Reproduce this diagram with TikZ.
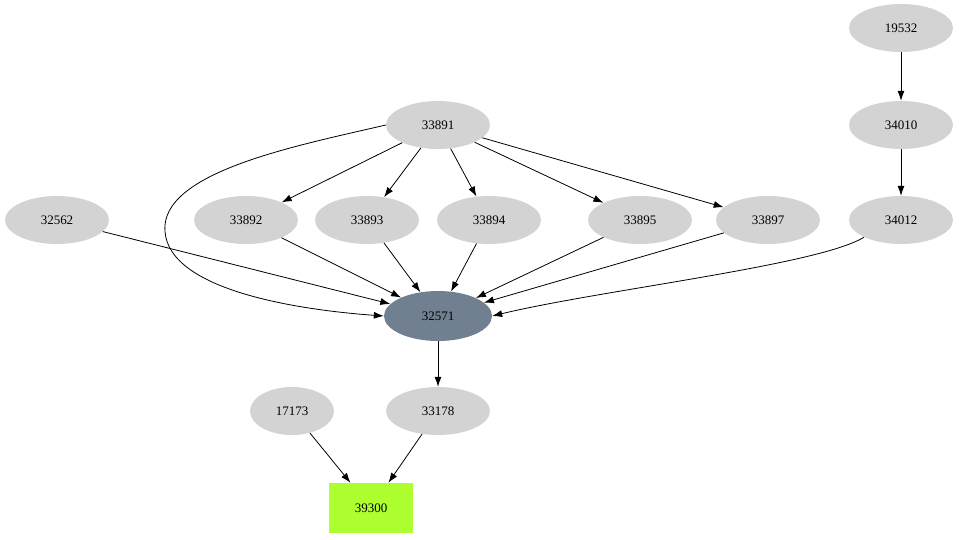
\documentclass[tikz,border=0pt]{standalone}
\usepackage{fontspec}
\setmainfont{Liberation Serif}
\usetikzlibrary{arrows.meta,shapes.geometric}
\definecolor{lg}{HTML}{D3D3D3}
\definecolor{slate}{HTML}{708090}
\definecolor{gy}{HTML}{ADFF2F}
\begin{document}
\begin{tikzpicture}[x=1pt,y=-1pt,
  el/.style={ellipse,fill=lg,minimum width=104pt,minimum height=48pt,inner sep=0pt,font=\fontsize{13}{15}\selectfont},
  ar/.style={-{Latex[length=10pt,width=7pt]},thick}]
\useasboundingbox (0,0) rectangle (959,539);
\node[el] (n19532) at (901,28) {19532};
\node[el] (n34010) at (901,125) {34010};
\node[el] (n34012) at (901,220) {34012};
\node[el] (n33891) at (438,125) {33891};
\node[el] (n32562) at (57,220) {32562};
\node[el] (n33892) at (246,220) {33892};
\node[el] (n33893) at (367,220) {33893};
\node[el] (n33894) at (489,220) {33894};
\node[el] (n33895) at (640,220) {33895};
\node[el] (n33897) at (768,220) {33897};
\node[el,fill=slate,minimum width=108pt,minimum height=50pt] (n32571) at (438,316) {32571};
\node[el,minimum width=84pt] (n17173) at (292,411) {17173};
\node[el] (n33178) at (438,411) {33178};
\node[fill=gy,minimum width=84pt,minimum height=50pt,inner sep=0pt,font=\fontsize{13}{15}\selectfont] (n39300) at (371,508) {39300};
\draw[ar] (n19532) -- (n34010);
\draw[ar] (n34010) -- (n34012);
\draw[ar] (n34012.south west) .. controls (820,265) and (600,290) .. (n32571.east);
\draw[ar] (n33891.west) .. controls (300,145) and (170,170) .. (165,225) .. controls (160,290) and (300,310) .. (n32571.west);
\foreach \t in {n33892,n33893,n33894,n33895,n33897} \draw[ar] (n33891) -- (\t);
\foreach \s in {n32562,n33892,n33893,n33894,n33895,n33897} \draw[ar] (\s) -- (n32571);
\draw[ar] (n32571) -- (n33178);
\draw[ar] (n17173) -- (n39300);
\draw[ar] (n33178) -- (n39300);
\end{tikzpicture}
\end{document}
